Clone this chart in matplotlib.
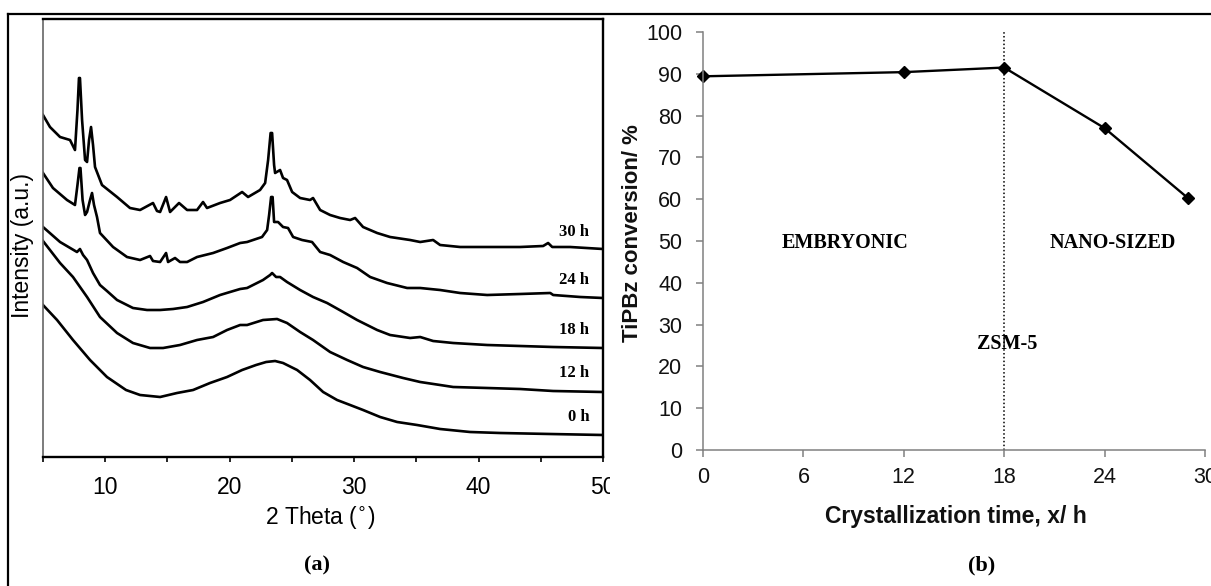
import numpy as np
import matplotlib
matplotlib.use('Agg')
import matplotlib.pyplot as plt
from matplotlib.lines import Line2D
from matplotlib.patches import Rectangle

plt.rcParams['font.family'] = ['Liberation Sans', 'DejaVu Sans']

# ---- (a) XRD patterns, 2 theta (deg) vs intensity (a.u.)
tt_30 = [5.00, 5.56, 6.37, 7.17, 7.57, 7.77, 7.89, 7.97, 8.14, 8.38, 8.54, 8.70, 8.86, 9.02, 9.18,
         9.74, 10.95, 11.99, 12.80, 13.84, 14.16, 14.41, 14.89, 15.21, 15.93, 16.58, 17.38, 17.86,
         18.18, 19.23, 20.03, 21.00, 21.48, 22.44, 22.85, 23.09, 23.29, 23.41, 23.57, 23.65, 24.05,
         24.29, 24.61, 25.02, 25.66, 26.46, 26.70, 27.27, 28.07, 28.87, 29.68, 30.08, 30.72, 31.85,
         32.89, 34.50, 35.31, 36.35, 36.91, 38.52, 40.69, 43.34, 45.19, 45.59, 45.92, 47.36, 50.00]
int_30 = [342, 330, 320, 317, 307, 347, 379, 379, 337, 297, 295, 317, 330, 312, 290,
          272, 260, 249, 247, 254, 246, 245, 260, 245, 254, 247, 247, 255,
          249, 254, 257, 265, 260, 267, 274, 297, 324, 324, 292, 284, 287,
          279, 277, 265, 259, 257, 259, 247, 242, 239, 237, 239, 230, 224,
          220, 217, 215, 217, 212, 210, 210, 210, 211, 214, 210, 210, 208]

tt_24 = [5.00, 5.80, 6.93, 7.57, 7.77, 7.93, 8.01, 8.18, 8.38, 8.54, 8.78, 8.94, 9.10, 9.34, 9.58,
         10.63, 11.75, 12.80, 13.60, 13.84, 14.41, 14.89, 15.05, 15.61, 16.01, 16.58, 17.38, 18.67,
         19.79, 20.84, 21.40, 22.60, 23.01, 23.17, 23.33, 23.45, 23.57, 23.89, 24.29, 24.69, 25.10,
         25.82, 26.62, 27.27, 28.07, 29.12, 30.24, 31.29, 32.65, 34.26, 35.31, 36.91, 38.52, 40.69,
         43.34, 45.76, 46.00, 48.17, 50.00]
int_24 = [284, 269, 257, 252, 272, 289, 289, 257, 242, 245, 257, 264, 252, 240, 224,
          210, 200, 197, 201, 196, 195, 204, 195, 199, 195, 195, 200, 204,
          209, 214, 215, 220, 227, 242, 260, 260, 235, 235, 230, 229, 220,
          217, 215, 205, 202, 195, 189, 180, 174, 169, 169, 167, 164, 162,
          163, 164, 162, 160, 159]

tt_18 = [5.00, 6.37, 7.73, 7.97, 8.22, 8.54, 9.02, 9.58, 10.14, 10.95, 12.23, 13.36, 14.41, 15.45,
         16.58, 17.86, 19.23, 20.03, 20.84, 21.40, 22.68, 23.25, 23.41, 23.73, 24.05, 24.61, 25.66,
         26.70, 27.83, 29.12, 30.24, 31.85, 32.89, 34.50, 35.31, 36.35, 37.96, 40.69, 43.34, 45.99, 50.00]
int_18 = [230, 215, 205, 208, 202, 197, 184, 172, 166, 157, 149, 147, 147, 148,
          150, 155, 162, 165, 168, 169, 177, 182, 184, 180, 180, 175, 167,
          160, 154, 145, 137, 127, 122, 119, 120, 116, 114, 112, 111, 110, 109]

tt_12 = [5.00, 6.37, 7.41, 8.54, 9.58, 10.95, 12.23, 13.60, 14.65, 16.01, 17.38, 18.67, 19.79, 20.84,
         21.40, 22.68, 23.81, 24.61, 25.66, 26.70, 28.07, 29.44, 30.72, 32.09, 33.94, 35.31, 36.91,
         37.96, 40.69, 43.34, 45.99, 50.00]
int_12 = [216, 194, 180, 160, 140, 124, 114, 109, 109, 112, 117, 120, 127, 132,
          132, 137, 138, 134, 125, 117, 105, 97, 90, 85, 79, 75, 72,
          70, 69, 68, 66, 65]

tt_0 = [5.00, 6.13, 7.41, 8.78, 10.14, 11.67, 12.80, 14.41, 15.77, 17.06, 18.42, 19.79, 21.00, 22.12,
        22.93, 23.65, 24.29, 25.42, 26.46, 27.51, 28.63, 29.68, 30.72, 32.09, 33.46, 35.06, 36.91,
        39.32, 41.74, 45.76, 50.00]
int_0 = [152, 137, 117, 97, 80, 67, 62, 60, 64, 67, 74, 80, 87, 92,
         95, 96, 94, 87, 77, 65, 57, 52, 47, 40, 35, 32, 28,
         25, 24, 23, 22]

xrd_labels = ['30 h', '24 h', '18 h', '12 h', '0 h']
xrd_label_y = [225, 177, 127, 84, 40]

# ---- (b) conversion vs crystallization time
time_h = [0, 12, 18, 24, 29]
conversion = [89.4, 90.4, 91.5, 77.0, 60.2]

W, H = 1211, 586
fig = plt.figure(figsize=(W / 100, H / 100), dpi=100)

def fx(px):
    return px / W

def fy(py):
    return 1 - py / H

serif = ['Liberation Serif', 'DejaVu Serif']

# outer frame (left and top edges only, the rest is cropped)
fig.add_artist(Line2D([fx(8), fx(8)], [fy(14), 0], color='black', lw=1.6))
fig.add_artist(Line2D([fx(8), 1], [fy(14), fy(14)], color='black', lw=1.6))

# ---------- panel (a)
ax1 = fig.add_axes([fx(43), fy(457), (603 - 43) / W, (457 - 19) / H])
for tt, ii in [(tt_30, int_30), (tt_24, int_24), (tt_18, int_18), (tt_12, int_12), (tt_0, int_0)]:
    ax1.plot(tt, ii, color='black', lw=1.9)
for lab, yy in zip(xrd_labels, xrd_label_y):
    ax1.text(48.9, yy, lab, ha='right', va='center', fontsize=12, fontweight='bold', family=serif)
ax1.set_xlim(5, 50)
ax1.set_ylim(0, 438)
ax1.set_xticks(np.arange(5, 51, 5))
ax1.set_xticklabels(['' if t % 10 else str(t) for t in range(5, 51, 5)])
ax1.set_yticks([])
ax1.tick_params(axis='x', direction='out', length=3.5, width=1.2, labelsize=16.5, pad=10)
for s in ['top', 'right', 'bottom']:
    ax1.spines[s].set_linewidth(1.7)
ax1.spines['left'].set_linewidth(1.2)
ax1.spines['left'].set_color('#666666')
ax1.set_xlabel('2 Theta ($^{\\circ}$)', fontsize=16.5, va='center')
ax1.xaxis.set_label_coords(0.496, -0.139)
ax1.set_ylabel('Intensity (a.u.)', fontsize=16.5, va='center')
ax1.yaxis.set_label_coords(-0.0375, 0.482)

# ---------- panel (b)
ax2 = fig.add_axes([fx(703), fy(450), (1205 - 703) / W, (450 - 32) / H])
ax2.plot(time_h, conversion, color='black', lw=1.7, marker='D', ms=6.5, clip_on=False)
ax2.plot([18, 18], [0, 100], color='black', lw=1.1, ls=(0, (1, 1.5)))
ax2.text(8.5, 49.5, 'EMBRYONIC', ha='center', va='center', fontsize=14.5, fontweight='bold', family=serif)
ax2.text(24.5, 49.5, 'NANO-SIZED', ha='center', va='center', fontsize=14.5, fontweight='bold', family=serif)
ax2.text(18.2, 25.4, 'ZSM-5', ha='center', va='center', fontsize=14.5, fontweight='bold', family=serif)
ax2.set_xlim(0, 30)
ax2.set_ylim(0, 100)
ax2.set_xticks(range(0, 31, 6))
ax2.set_yticks(range(0, 101, 10))
for s in ['top', 'right']:
    ax2.spines[s].set_visible(False)
for s in ['left', 'bottom']:
    ax2.spines[s].set_color('#808080')
    ax2.spines[s].set_linewidth(1.1)
ax2.tick_params(direction='out', length=5, width=1.1, color='#808080', labelsize=15.5, labelcolor='#111111')
ax2.tick_params(axis='y', pad=10)
ax2.tick_params(axis='x', pad=7)
ax2.set_xlabel('Crystallization time, x/ h', fontsize=16.5, fontweight='bold', va='center', color='#111111')
ax2.xaxis.set_label_coords(0.504, -0.158)
ax2.set_ylabel('TiPBz conversion/ %', fontsize=16, fontweight='bold', va='center', color='#111111')
ax2.yaxis.set_label_coords(-0.141, 0.519)

# panel captions
fig.text(fx(317), fy(565), '(a)', ha='center', va='center', fontsize=16, fontweight='bold', family=serif)
fig.text(fx(982), fy(565), '(b)', ha='center', va='center', fontsize=16, fontweight='bold', family=serif)

# the left panel was cropped through its last tick label
fig.add_artist(Rectangle((fx(610), fy(500)), 30 / W, 30 / H, transform=fig.transFigure,
                         facecolor='white', edgecolor='none', zorder=20))

fig.savefig('out.png', dpi=100)
